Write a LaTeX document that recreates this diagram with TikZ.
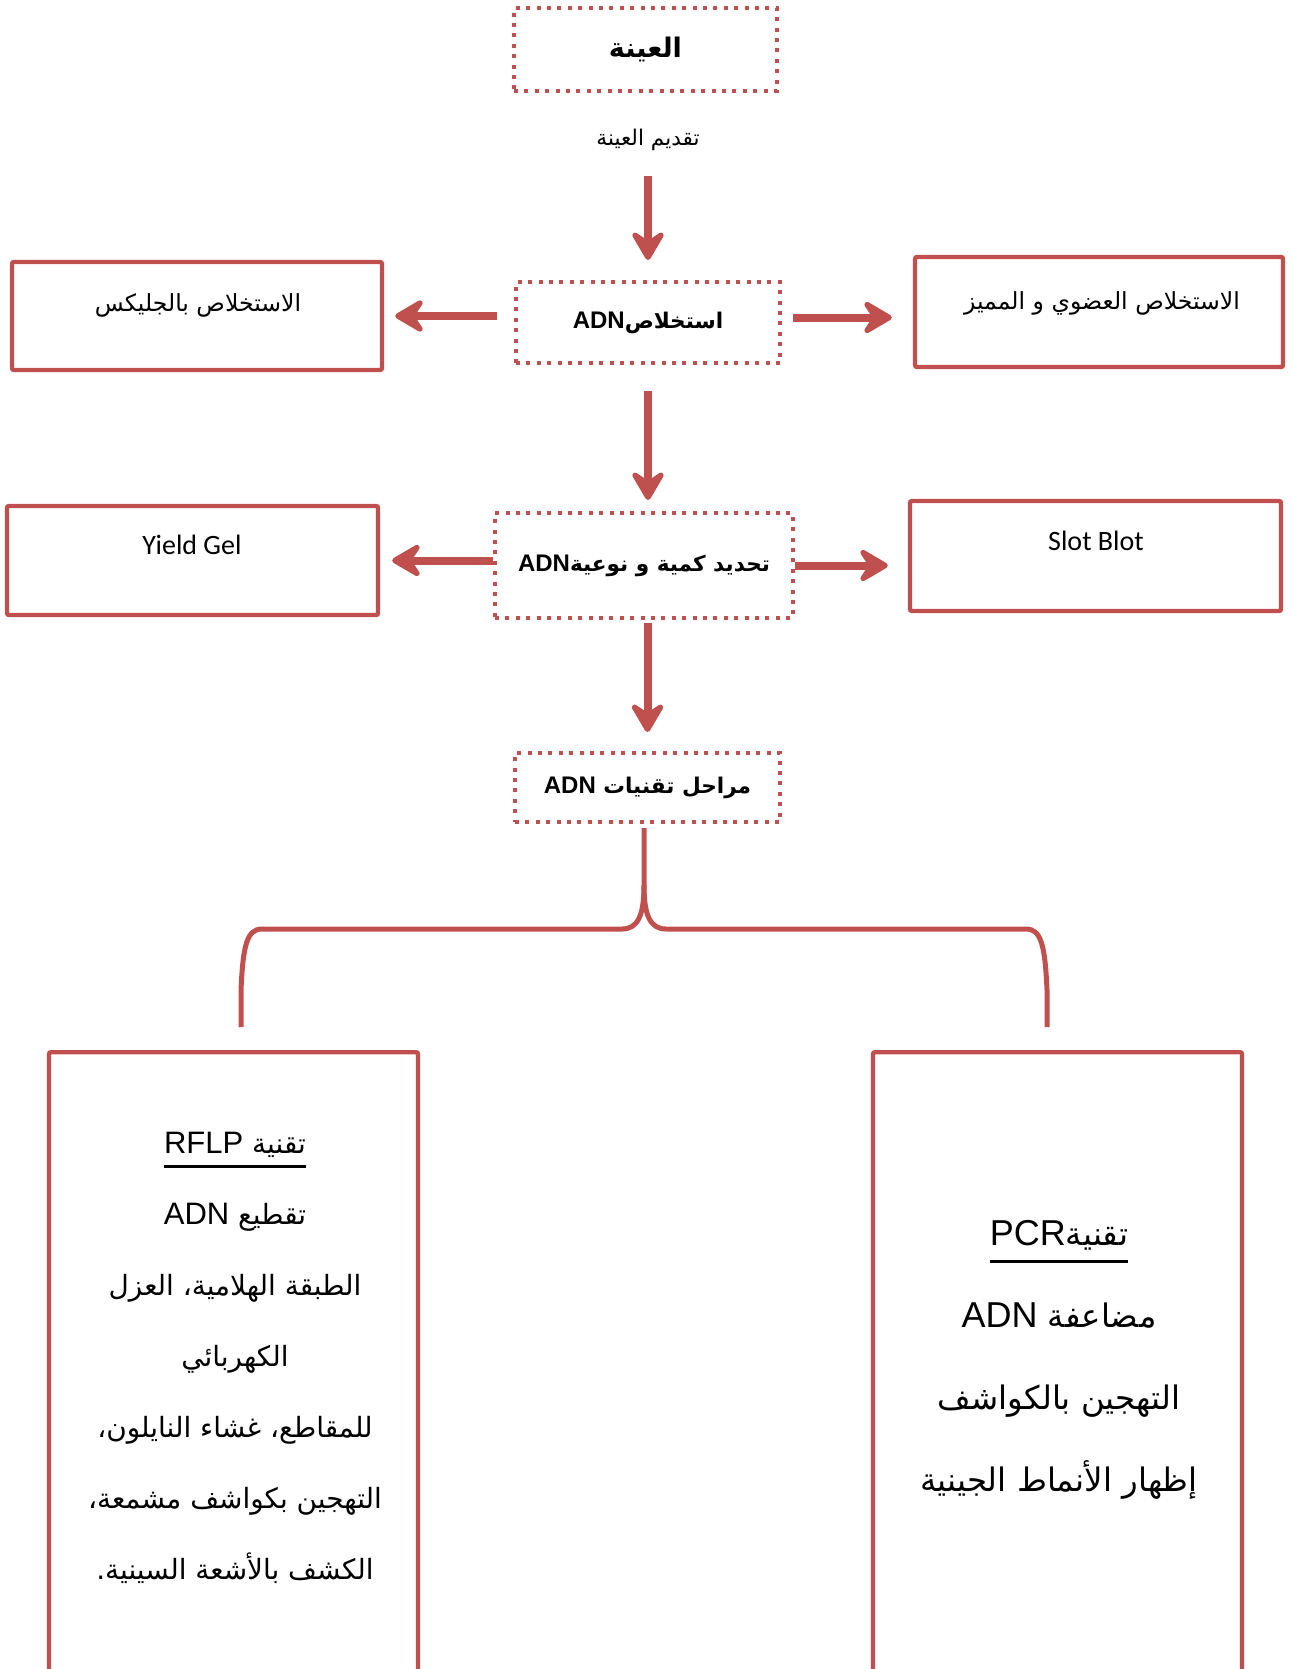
\documentclass[tikz,border=0pt]{standalone}
\usepackage{fontspec}
\setmainfont{Liberation Sans}
\newfontfamily\arabicfont[Script=Arabic, Scale=0.9]{DejaVu Sans}
\newfontfamily\calibrifont{Carlito}
\usetikzlibrary{arrows.meta}
\TeXXeTstate=1
\definecolor{boxred}{RGB}{192,80,77}
\newcommand{\artext}[1]{{\arabicfont\beginR #1\endR}}
\newcommand{\latword}[1]{{\beginL\rmfamily #1\endL}}
\newcommand{\underlined}[2]{\leavevmode\setbox0=\hbox{#2}\rlap{\rule[-#1]{\wd0}{1.3pt}}\box0}

\begin{document}
\begin{tikzpicture}[x=0.5pt, y=-0.5pt,
  dotbox/.style={draw=boxred, line width=2pt, dash pattern=on 2pt off 3.2pt, font=\bfseries\fontsize{12}{15}\selectfont},
  solidbox/.style={draw=boxred, line width=2.2pt, rounded corners=1pt},
  redarrow/.style={draw=boxred, line width=4pt, -{Stealth[length=18pt, width=21pt, inset=7pt, round]}},
  bracepath/.style={draw=boxred, line width=2.5pt, line join=round},
  boxtext/.style={font=\fontsize{13.1}{15}\selectfont},
  bigtext/.style={align=center},
]
\useasboundingbox (0,0) rectangle (1292,1669);
\clip (0,0) rectangle (1292,1669);

% sample and extraction
\node (sample) [dotbox, minimum width=131.5pt, minimum height=41.5pt, font=\bfseries\fontsize{15}{19}\selectfont] at (645.5,49.5) {\artext{العينة}};
\node (offer) [font=\fontsize{12}{14}\selectfont] at (648,140) {\artext{تقديم العينة}};
\node (extract) [dotbox, minimum width=132pt, minimum height=40.5pt] at (648,322.5) {\artext{استخلاص\latword{ADN}}};

\node (glyx) [solidbox, minimum width=185pt, minimum height=54pt] at (197,316) {};
\node (glyxtext) [boxtext] at (198,305) {\artext{الاستخلاص بالجليكس}};
\node (organic) [solidbox, minimum width=184pt, minimum height=55pt] at (1099,312) {};
\node (organictext) [boxtext] at (1102,303) {\artext{الاستخلاص العضوي و المميز}};

\draw[redarrow, shorten <=9pt, shorten >=10pt] (offer.south) -- (offer.south |- extract.north);
\draw[redarrow, shorten <=8.5pt, shorten >=5.5pt] (extract.west |- glyx.east) -- (glyx.east);
\draw[redarrow, shorten <=5.5pt, shorten >=10.5pt] ([yshift=2.5pt]extract.east) -- ([yshift=2.5pt]extract.east -| organic.west);

% quantity and quality
\node (quant) [dotbox, minimum width=149pt, minimum height=52.5pt] at (644,565.5) {\artext{تحديد كمية و نوعية\latword{ADN}}};
\node (gel) [solidbox, minimum width=185.5pt, minimum height=54.5pt] at (192.5,560.5) {};
\node (geltext) [font=\calibrifont\fontsize{14}{16}\selectfont] at (192,545) {Yield Gel};
\node (slot) [solidbox, minimum width=185.5pt, minimum height=55pt] at (1095.5,556) {};
\node (slottext) [font=\calibrifont\fontsize{14}{16}\selectfont] at (1096,541) {Slot Blot};

\draw[redarrow, shorten <=13pt, shorten >=5.5pt] (extract.south) -- (extract.south |- quant.north);
\draw[redarrow, shorten >=6pt] (quant.west |- gel.east) -- (gel.east);
\draw[redarrow, shorten >=10pt] (quant.east) -- (quant.east -| slot.west);

% techniques
\node (stages) [dotbox, minimum width=132.5pt, minimum height=34.5pt] at (647.5,787.5) {\artext{مراحل تقنيات \latword{ADN}}};
\draw[redarrow, shorten <=1.5pt, shorten >=9.5pt] (stages.north |- quant.south) -- (stages.north);

\coordinate (stemtop) at (644,828);
\coordinate (braceL) at (241,1027);
\coordinate (braceR) at (1047,1027);
\draw[bracepath] (braceL) -- (241,990) .. controls (243,945) and (247,929) .. (262,929) -- (622,929) .. controls (638,929) and (644,915) .. (644,885) -- (stemtop);
\draw[bracepath] (braceR) -- (1047,990) .. controls (1045,945) and (1041,929) .. (1026,929) -- (666,929) .. controls (650,929) and (644,915) .. (644,885);

\node (rflp) [solidbox, anchor=north, minimum width=184.5pt, minimum height=350pt] at (233.5,1050) {};
\node (pcr) [solidbox, anchor=north, minimum width=184.5pt, minimum height=350pt] at (1057.5,1050) {};

\node (rflptext) [bigtext, font=\fontsize{15.5}{35.5}\selectfont] at (235,1358) {\underlined{7pt}{\artext{تقنية \latword{RFLP}}}\\
  \artext{تقطيع \latword{ADN}}\\
  \artext{الطبقة الهلامية، العزل}\\
  \artext{الكهربائي}\\
  \artext{للمقاطع، غشاء النايلون،}\\
  \artext{التهجين بكواشف مشمعة،}\\
  \artext{الكشف بالأشعة السينية.}};
\node (pcrtext) [bigtext, font=\fontsize{18}{41}\selectfont] at (1059,1360) {\underlined{8.5pt}{\artext{تقنية\latword{PCR}}}\\
  \artext{مضاعفة \latword{ADN}}\\
  \artext{التهجين بالكواشف}\\
  \artext{إظهار الأنماط الجينية}};
\end{tikzpicture}
\end{document}
